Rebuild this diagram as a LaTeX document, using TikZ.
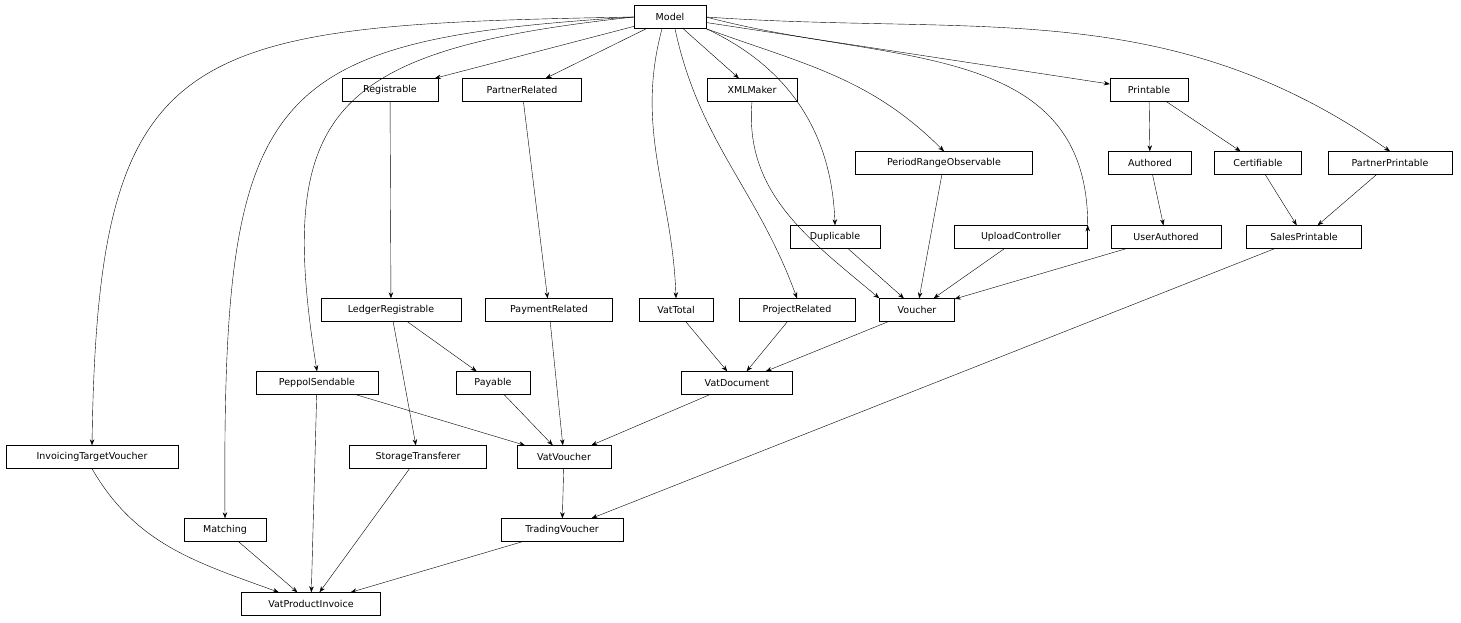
\documentclass[tikz,border=0pt]{standalone}
\usepackage{fontspec}
\setmainfont{DejaVu Sans}
\usetikzlibrary{arrows.meta,positioning}
\tikzset{cls/.style={draw,thin,font=\fontsize{9.5}{11}\selectfont,minimum height=23pt,inner xsep=2pt},
  inh/.style={-{Stealth[length=6pt,width=4.5pt]},thin}}
\begin{document}
\begin{tikzpicture}[x=1pt,y=1pt]
        \useasboundingbox (0,0) rectangle (1461,-623);
        % classes, row by row
        \node[cls,minimum width=72] (model) at (670,-17) {Model};
        \node[cls,minimum width=96] (reg) at (390,-90) {Registrable};
        \node[cls,minimum width=119] (prel) at (522,-90) {PartnerRelated};
        \node[cls,minimum width=90] (xml) at (752,-90) {XMLMaker};
        \node[cls,minimum width=78] (prn) at (1149,-90) {Printable};
        \node[cls,minimum width=177] (pro) at (944,-163) {PeriodRangeObservable};
        \node[cls,minimum width=83] (auth) at (1150,-163) {Authored};
        \node[cls,minimum width=87] (cert) at (1258,-163) {Certifiable};
        \node[cls,minimum width=124] (pprn) at (1390,-163) {PartnerPrintable};
        \node[cls,minimum width=90] (dup) at (835,-237) {Duplicable};
        \node[cls,minimum width=133] (upc) at (1021,-237) {UploadController};
        \node[cls,minimum width=110] (uauth) at (1166,-237) {UserAuthored};
        \node[cls,minimum width=115] (sprn) at (1304,-237) {SalesPrintable};
        \node[cls,minimum width=140] (lreg) at (391,-310) {LedgerRegistrable};
        \node[cls,minimum width=127] (payrel) at (549,-310) {PaymentRelated};
        \node[cls,minimum width=74] (vtot) at (676,-310) {VatTotal};
        \node[cls,minimum width=116] (projrel) at (797,-310) {ProjectRelated};
        \node[cls,minimum width=75] (vou) at (917,-310) {Voucher};
        \node[cls,minimum width=122] (pep) at (317,-383) {PeppolSendable};
        \node[cls,minimum width=74] (pay) at (493,-383) {Payable};
        \node[cls,minimum width=111] (vdoc) at (737,-383) {VatDocument};
        \node[cls,minimum width=172] (itv) at (92,-457) {InvoicingTargetVoucher};
        \node[cls,minimum width=137] (stt) at (418,-457) {StorageTransferer};
        \node[cls,minimum width=94] (vvou) at (564,-457) {VatVoucher};
        \node[cls,minimum width=82] (match) at (225,-530) {Matching};
        \node[cls,minimum width=122] (tvou) at (562,-530) {TradingVoucher};
        \node[cls,minimum width=139] (vpi) at (311,-604) {VatProductInvoice};

        % inheritance edges
        \draw[inh] (model.west) .. controls (180,-25) and (98,-40) .. (itv.north);
        \draw[inh] (model.west) .. controls (260,-40) and (222,-90) .. (match.north);
        \draw[inh] (model.west) .. controls (330,-50) and (275,-110) .. (pep.north);
        \draw[inh] (model) -- (reg);
        \draw[inh] (model) -- (prel);
        \draw[inh] (model) -- (xml);
        \draw[inh] (model) -- (prn);
        \draw[inh] (model.south) ++(-8,0) to[out=-105,in=92] (vtot.north);
        \draw[inh] (model.south) ++(5,0) to[out=-78,in=110] (projrel.north);
        \draw[inh] (model.south east) to[out=-25,in=92] (dup.north);
        \draw[inh] (model.south east) to[out=-20,in=135] (pro.north);
        \draw[inh] (model.east) to[out=-15,in=90,looseness=1.1] (upc.north east) ++(0,0);
        \draw[inh] (model.east) to[out=-4,in=145] (pprn.north);
        \draw[inh] (reg) -- (lreg);
        \draw[inh] (prel) -- (payrel);
        \draw[inh] (xml.south) to[out=-95,in=140] (vou.north west);
        \draw[inh] (prn) -- (auth);
        \draw[inh] (prn) -- (cert);
        \draw[inh] (auth) -- (uauth);
        \draw[inh] (cert) -- (sprn);
        \draw[inh] (pprn) -- (sprn);
        \draw[inh] (pro) -- (vou);
        \draw[inh] (dup) -- (vou);
        \draw[inh] (upc) -- (vou);
        \draw[inh] (uauth) -- (vou);
        \draw[inh] (sprn) -- (tvou);
        \draw[inh] (lreg) -- (pay);
        \draw[inh] (lreg) -- (stt);
        \draw[inh] (payrel) -- (vvou);
        \draw[inh] (vtot) -- (vdoc);
        \draw[inh] (projrel) -- (vdoc);
        \draw[inh] (vou) -- (vdoc);
        \draw[inh] (pep) -- (vvou);
        \draw[inh] (pep) -- (vpi);
        \draw[inh] (pay) -- (vvou);
        \draw[inh] (vdoc) -- (vvou);
        \draw[inh] (vvou) -- (tvou);
        \draw[inh] (itv.south) to[out=-60,in=160] (vpi);
        \draw[inh] (stt) -- (vpi);
        \draw[inh] (match) -- (vpi);
        \draw[inh] (tvou) -- (vpi);
    \end{tikzpicture}
\end{document}
